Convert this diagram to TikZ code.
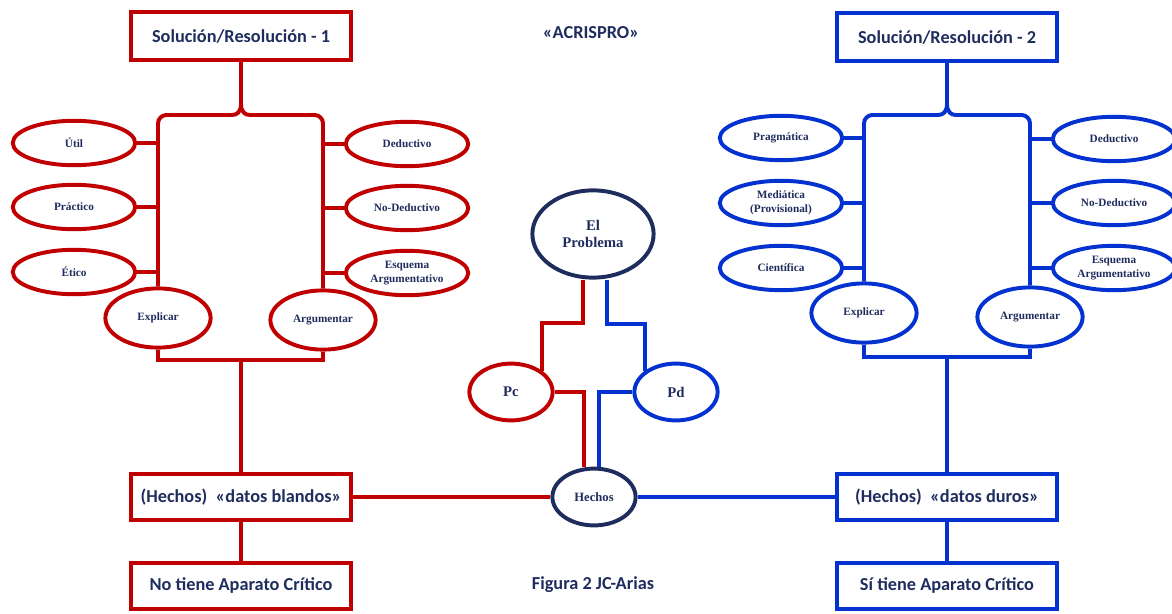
\documentclass[tikz,border=0pt]{standalone}
\usepackage{fontspec}
\setmainfont{Liberation Serif}
\newfontfamily\calfont{Carlito}
\usetikzlibrary{shapes.geometric}

\definecolor{rojo}{RGB}{192,0,0}
\definecolor{azul}{RGB}{4,50,208}
\definecolor{marino}{RGB}{31,45,94}

\tikzset{
  caja/.style={draw, rectangle, line width=2.8pt, minimum width=5.48cm, minimum height=1.2cm, inner sep=0pt, text=marino, font=\calfont\bfseries\fontsize{13}{15}\selectfont},
  elip/.style={draw, ellipse, line width=2.8pt, minimum width=3.06cm, minimum height=1.11cm, inner sep=0pt, text=marino, align=center, font=\bfseries\fontsize{8}{10}\selectfont},
  elipg/.style={elip, minimum width=2.63cm, minimum height=1.48cm},
  elipc/.style={elip, minimum width=2.08cm, minimum height=1.42cm, font=\bfseries\fontsize{10.5}{12.5}\selectfont},
  linea/.style={line width=2.8pt},
  rotulo/.style={text=marino, font=\calfont\bfseries\fontsize{13}{15}\selectfont},
}

\begin{document}
\begin{tikzpicture}[x=0.025cm, y=-0.025cm]
  \useasboundingbox (0,0) rectangle (1172,613);

  \node[caja, draw=rojo] (s1) at (241,36) {Solución/Resolución - 1};
  \node[elip, draw=rojo] (ut) at (74,143) {Útil};
  \node[elip, draw=rojo] (pr) at (74,207) {Práctico};
  \node[elip, draw=rojo] (et) at (74,272) {Ético};
  \node[elip, draw=rojo] (de1) at (407,144) {Deductivo};
  \node[elip, draw=rojo] (nd1) at (407,208) {No-Deductivo};
  \node[elip, draw=rojo] (es1) at (407,273) {Esquema\\Argumentativo};
  \node[elipg, draw=rojo] (ex1) at (158,318) {Explicar};
  \node[elipg, draw=rojo] (ar1) at (323,320) {Argumentar};
  \coordinate (k1) at (241,104);
  \coordinate (bb1) at (241,360);
  \node[caja, draw=rojo, minimum height=1.16cm] (hb) at (241,497) {(Hechos)~~«datos blandos»};
  \node[caja, draw=rojo, minimum height=1.16cm] (nb) at (241,586) {No tiene Aparato Crítico};

  \node[rotulo] (ttl) at (591,33) {«ACRISPRO»};
  \node[elipc, draw=marino, minimum width=3.03cm, minimum height=2.18cm] (prob) at (593,234) {El\\Problema};
  \node[elipc, draw=rojo] (pc) at (511,392) {Pc};
  \node[elipc, draw=azul] (pd) at (676,392) {Pd};
  \node[elipc, draw=marino, font=\bfseries\fontsize{9}{11}\selectfont] (he) at (594,497) {Hechos};
  \node[rotulo] (fig) at (593,585) {Figura 2 JC-Arias};

  \node[caja, draw=azul] (s2) at (947,37) {Solución/Resolución - 2};
  \node[elip, draw=azul] (pg) at (781,138) {Pragmática};
  \node[elip, draw=azul] (me) at (781,203) {Mediática\\(Provisional)};
  \node[elip, draw=azul] (ci) at (781,268) {Científica};
  \node[elip, draw=azul] (de2) at (1114,139) {Deductivo};
  \node[elip, draw=azul] (nd2) at (1114,203) {No-Deductivo};
  \node[elip, draw=azul] (es2) at (1114,268) {Esquema\\Argumentativo};
  \node[elipg, draw=azul] (ex2) at (864,313) {Explicar};
  \node[elipg, draw=azul] (ar2) at (1030,317) {Argumentar};
  \coordinate (k2) at (947,104);
  \coordinate (bb2) at (947,357);
  \node[caja, draw=azul, minimum height=1.16cm] (hd) at (947,497) {(Hechos)~~«datos duros»};
  \node[caja, draw=azul, minimum height=1.16cm] (sd) at (947,586) {Sí tiene Aparato Crítico};

  \draw[linea, rojo] (s1.south) -- (k1);
  \draw[linea, rojo] (k1) .. controls +(0,8) and +(5,0) .. ++(-9,11) [rounded corners=6pt] -| (ex1.north);
  \draw[linea, rojo] (k1) .. controls +(0,8) and +(-5,0) .. ++(9,11) [rounded corners=6pt] -| (ar1.north);
  \draw[linea, rojo] (ut.east) -- (ut.east -| ex1.north);
  \draw[linea, rojo] (pr.east) -- (pr.east -| ex1.north);
  \draw[linea, rojo] (et.east) -- (et.east -| ex1.north);
  \draw[linea, rojo] (de1.west) -- (de1.west -| ar1.north);
  \draw[linea, rojo] (nd1.west) -- (nd1.west -| ar1.north);
  \draw[linea, rojo] (es1.west) -- (es1.west -| ar1.north);
  \draw[linea, rojo] (ex1.south) |- (bb1) -| (ar1.south);
  \draw[linea, rojo] (bb1) -- (hb.north);
  \draw[linea, rojo] (hb.south) -- (nb.north);

  \draw[linea, azul] (s2.south) -- (k2);
  \draw[linea, azul] (k2) .. controls +(0,8) and +(5,0) .. ++(-9,11) [rounded corners=6pt] -| (ex2.north);
  \draw[linea, azul] (k2) .. controls +(0,8) and +(-5,0) .. ++(9,11) [rounded corners=6pt] -| (ar2.north);
  \draw[linea, azul] (pg.east) -- (pg.east -| ex2.north);
  \draw[linea, azul] (me.east) -- (me.east -| ex2.north);
  \draw[linea, azul] (ci.east) -- (ci.east -| ex2.north);
  \draw[linea, azul] (de2.west) -- (de2.west -| ar2.north);
  \draw[linea, azul] (nd2.west) -- (nd2.west -| ar2.north);
  \draw[linea, azul] (es2.west) -- (es2.west -| ar2.north);
  \draw[linea, azul] (ex2.south) |- (bb2) -| (ar2.south);
  \draw[linea, azul] (bb2) -- (hd.north);
  \draw[linea, azul] (hd.south) -- (sd.north);

  \draw[linea, rojo] ([xshift=-0.25cm]prob.south) -- ++(0,43) -| (pc.north east);
  \draw[linea, rojo] (pc.east) -| ([xshift=-0.25cm]he.north);
  \draw[linea, azul] ([xshift=0.35cm]prob.south) -- ++(0,44) -| (pd.north west);
  \draw[linea, azul] (pd.west) -| ([xshift=0.125cm]he.north);
  \draw[linea, rojo] (hb.east) -- (he.west);
  \draw[linea, azul] (he.east) -- (hd.west);
\end{tikzpicture}
\end{document}
